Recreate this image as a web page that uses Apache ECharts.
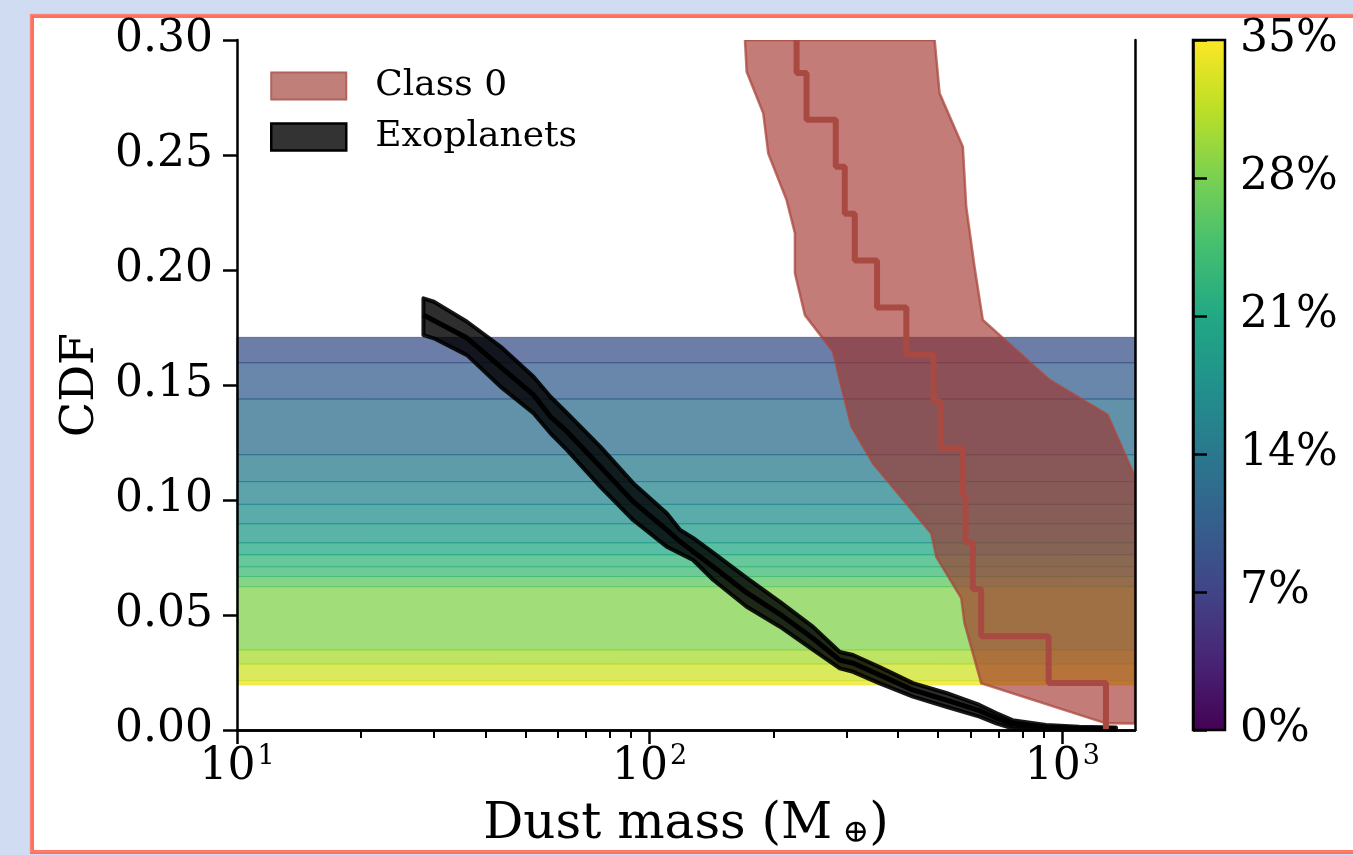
<!DOCTYPE html>
<html>
<head>
<meta charset="utf-8">
<script src="https://cdn.jsdelivr.net/npm/echarts@6/dist/echarts.min.js"></script>
<style>
html,body{margin:0;padding:0;background:#d0dcf2;}
#chart{width:1353px;height:855px;}
</style>
</head>
<body>
<div id="chart"></div>
<script>
// ---------------- data ----------------
const massMajorTicks = [10, 100, 1000];
const massMinorTicks = [20, 30, 40, 50, 60, 70, 80, 90, 200, 300, 400, 500, 600, 700, 800, 900];
const colorbarTicks = [0, 7, 14, 21, 28, 35];

// horizontal percentage bands (CDF edges, bottom -> top) and their colour value (%)
const bandEdges = [0.0196, 0.0214, 0.0287, 0.0348, 0.0623, 0.0667, 0.0710, 0.0762, 0.0814, 0.0897, 0.0981, 0.1080, 0.1197, 0.1439, 0.1597, 0.1707];
const bandPercent = [34, 32.5, 30.5, 28.4, 26, 23.8, 23, 21, 18.9, 17.3, 15.8, 14.4, 12.6, 10.5, 8.75];

// Exoplanets envelope
const exoUpperMass = [28.3, 30.0, 36.1, 43.5, 52.3, 57.5, 63.1, 75.9, 91.2, 110, 118.5, 127.4, 142.7, 171.8, 206.9, 248.9, 288.9, 311.1, 360.9, 434.5, 523.2, 630, 691.5, 757, 913, 1099, 1349];
const exoUpperCdf  = [0.1877, 0.1862, 0.1775, 0.1667, 0.1536, 0.1449, 0.1377, 0.1232, 0.1073, 0.0942, 0.0870, 0.0835, 0.0770, 0.0661, 0.0557, 0.0448, 0.0339, 0.0326, 0.0274, 0.0204, 0.0161, 0.0109, 0.0074, 0.0043, 0.0022, 0.0014, 0.0011];
const exoLowerMass = [28.3, 30.0, 36.1, 43.5, 52.3, 57.5, 63.1, 75.9, 91.2, 110, 118.5, 127.4, 142.7, 171.8, 206.9, 248.9, 288.9, 311.1, 360.9, 434.5, 523.2, 630, 691.5, 757, 913, 1349];
const exoLowerCdf  = [0.1717, 0.1703, 0.1630, 0.1493, 0.1377, 0.1290, 0.1217, 0.1058, 0.0913, 0.0797, 0.0768, 0.0739, 0.0652, 0.0536, 0.0449, 0.0348, 0.0268, 0.0253, 0.0203, 0.0145, 0.0101, 0.0058, 0.0029, 0.0007, 0.0, 0.0];
const exoMidMass = [28.3, 36.1, 43.5, 52.3, 57.5, 63.1, 75.9, 91.2, 110, 118.5, 142.5, 171.8, 206.9, 248.5, 288.9, 310.6, 360.9, 434, 524, 630, 692, 757, 913, 1099, 1350];
const exoMidCdf  = [0.1804, 0.1704, 0.1579, 0.1457, 0.1362, 0.1297, 0.1145, 0.0993, 0.0870, 0.0819, 0.0710, 0.0597, 0.0503, 0.0399, 0.0304, 0.0291, 0.0239, 0.0174, 0.0130, 0.0084, 0.0052, 0.0026, 0.0013, 0.0007, 0.0004];

// Class 0 envelope
const class0LeftMass = [170.2, 171.8, 188.5, 193.8, 214.7, 224.9, 224.9, 237.8, 278.3, 288.9, 308.3, 347.7, 481.4, 495, 568.9, 579.4, 636, 1275, 1500];
const class0LeftCdf  = [0.30, 0.2862, 0.2681, 0.2507, 0.2304, 0.2160, 0.1986, 0.1804, 0.1645, 0.1522, 0.1319, 0.1160, 0.0855, 0.0753, 0.0573, 0.0464, 0.0203, 0.0029, 0.0028];
const class0RightMass = [490.4, 504.2, 574, 584.9, 612.6, 641.6, 930, 1287, 1500];
const class0RightCdf  = [0.30, 0.2768, 0.2536, 0.2275, 0.2014, 0.1783, 0.1522, 0.1370, 0.1100];
// Class 0 step CDF
const class0StepMass = [227, 240, 282.5, 297, 314.1, 355.6, 418.8, 487.5, 506, 574, 582.7, 606.8, 636, 926.6, 1275.5, 1275.5];
const class0StepCdf  = [0.30, 0.2857, 0.2653, 0.2449, 0.2245, 0.2041, 0.1837, 0.1633, 0.1429, 0.1224, 0.1020, 0.0816, 0.0612, 0.0408, 0.0204, 0];

// ---------------- build ----------------
const viridis = ['#440154','#482475','#414487','#355f8d','#2a788e','#21918c','#22a884','#44bf70','#7ad151','#bddf26','#fde725'];
const FONT = 'DejaVu Serif';
const X_MIN = 10, X_MAX = 1500, Y_MIN = 0, Y_MAX = 0.30, CB_MIN = 0, CB_MAX = 35;

const pairs = (xs, ys) => xs.map((x, i) => [x, ys[i]]);
const bandData = bandPercent.map((p, i) => [bandEdges[i], bandEdges[i + 1], p]);
const exoPolygon = pairs(exoUpperMass, exoUpperCdf).concat(pairs(exoLowerMass, exoLowerCdf).reverse());
const class0Polygon = pairs(class0LeftMass, class0LeftCdf).concat(pairs(class0RightMass, class0RightCdf).reverse());

function clipOf(params) {
  const c = params.coordSys;
  return {type: 'rect', shape: {x: c.x, y: c.y, width: c.width, height: c.height}};
}
function polygonRenderer(points, style) {
  return function (params, api) {
    if (params.dataIndex !== 0) return null;
    return {
      type: 'polygon',
      shape: {points: points.map(p => api.coord(p))},
      style: style,
      clipPath: clipOf(params)
    };
  };
}

const chart = echarts.init(document.getElementById('chart'), null, {renderer: 'canvas'});
const labelStyle = {fontFamily: FONT, fontSize: 44, color: '#000'};

const option = {
  animation: false,
  backgroundColor: '#d0dcf2',
  textStyle: {fontFamily: FONT},
  graphic: [
    {type: 'rect', z: -100, shape: {x: 32, y: 16, width: 1420, height: 836},
     style: {fill: '#ffffff', stroke: '#ff6f5e', lineWidth: 4}},
    {type: 'rect', z: -99, shape: {x: 30.5, y: 14.5, width: 1420, height: 837},
     style: {fill: null, stroke: '#ff8b7c', lineWidth: 1.5, opacity: 0.7}}
  ],
  legend: {
    orient: 'vertical', left: 270, top: 68, padding: 0,
    itemWidth: 75, itemHeight: 27, itemGap: 15,
    textStyle: {fontFamily: FONT, fontSize: 36, color: '#000', lineHeight: 36, padding: [0, 0, 0, 24]},
    data: [
      {name: 'Class 0', icon: 'rect', itemStyle: {color: '#c07f79', borderColor: '#b0635c', borderWidth: 2}},
      {name: 'Exoplanets', icon: 'rect', itemStyle: {color: '#333333', borderColor: '#000000', borderWidth: 2.5}}
    ],
    selectedMode: false
  },
  visualMap: {
    type: 'continuous', show: false, seriesIndex: 0, dimension: 2,
    min: CB_MIN, max: CB_MAX, inRange: {color: viridis}
  },
  grid: [
    {left: 237, top: 40, width: 898, height: 690},
    {left: 1193, top: 40, width: 32, height: 690}
  ],
  xAxis: [
    {
      gridIndex: 0, type: 'log', logBase: 10, min: X_MIN, max: X_MAX, position: 'bottom', z: 10,
      axisLine: {show: true, lineStyle: {color: '#000', width: 2.5}},
      axisTick: {show: true, customValues: massMajorTicks, length: 14, lineStyle: {color: '#000', width: 2.5}},
      axisLabel: {
        customValues: massMajorTicks, margin: 13, color: '#000',
        formatter: v => '{b|10}{s|' + Math.round(Math.log10(v)) + '}',
        rich: {
          b: {fontFamily: FONT, fontSize: 44, color: '#000', lineHeight: 50},
          s: {fontFamily: FONT, fontSize: 27, color: '#000', verticalAlign: 'top', lineHeight: 30, padding: [0, 0, 0, 2]}
        }
      },
      splitLine: {show: false},
      name: 'Dust mass (M{s| ⊕})', nameLocation: 'middle', nameGap: 70,
      nameTextStyle: {
        fontFamily: FONT, fontSize: 50, color: '#000',
        rich: {s: {fontFamily: FONT, fontSize: 32, color: '#000', verticalAlign: 'bottom', lineHeight: 40, padding: [16, 0, 0, 0]}}
      }
    },
    {gridIndex: 1, type: 'value', min: 0, max: 1, show: false},
    {
      gridIndex: 0, type: 'log', logBase: 10, min: X_MIN, max: X_MAX, position: 'top', z: 10,
      axisLine: {show: true, lineStyle: {color: '#000', width: 2.5}},
      axisTick: {show: false}, axisLabel: {show: false}, splitLine: {show: false}
    },
    {
      gridIndex: 0, type: 'log', logBase: 10, min: X_MIN, max: X_MAX, position: 'bottom', z: 10,
      axisLine: {show: false},
      axisTick: {show: true, customValues: massMinorTicks, length: 8, lineStyle: {color: '#000', width: 2}},
      axisLabel: {show: false}, splitLine: {show: false}
    }
  ],
  yAxis: [
    {
      gridIndex: 0, type: 'value', min: Y_MIN, max: Y_MAX, interval: 0.05, position: 'left', z: 10,
      axisLine: {show: true, lineStyle: {color: '#000', width: 2.5}},
      axisTick: {show: true, length: 14, lineStyle: {color: '#000', width: 2.5}},
      axisLabel: Object.assign({margin: 24, formatter: v => v.toFixed(2)}, labelStyle),
      splitLine: {show: false},
      name: 'CDF', nameLocation: 'middle', nameGap: 127,
      nameTextStyle: {fontFamily: FONT, fontSize: 46, color: '#000'}
    },
    {
      gridIndex: 1, type: 'value', min: CB_MIN, max: CB_MAX, interval: 7, position: 'right', z: 10,
      axisLine: {show: true, lineStyle: {color: '#000', width: 2.5}},
      axisTick: {show: true, length: 14, lineStyle: {color: '#000', width: 2.5}},
      axisLabel: Object.assign({margin: 15, formatter: v => v + '%'}, labelStyle),
      splitLine: {show: false}
    },
    {
      gridIndex: 0, type: 'value', min: Y_MIN, max: Y_MAX, position: 'right', z: 10,
      axisLine: {show: true, lineStyle: {color: '#000', width: 2.5}},
      axisTick: {show: false}, axisLabel: {show: false}, splitLine: {show: false}
    }
  ],
  series: [
    {
      name: 'bands', type: 'custom', xAxisIndex: 0, yAxisIndex: 0, z: 1,
      dimensions: ['lo', 'hi', 'pct'], encode: {y: [0, 1]},
      data: bandData,
      renderItem: function (params, api) {
        const p1 = api.coord([X_MIN, api.value(1)]);
        const p2 = api.coord([X_MAX, api.value(0)]);
        const col = api.visual('color');
        return {
          type: 'rect',
          shape: {x: p1[0], y: p1[1], width: p2[0] - p1[0], height: p2[1] - p1[1]},
          style: {fill: col, stroke: col, lineWidth: 1, opacity: 0.75}
        };
      }
    },
    {
      name: 'Exoplanets', type: 'custom', xAxisIndex: 0, yAxisIndex: 0, z: 3,
      itemStyle: {color: '#333333'},
      data: exoPolygon,
      renderItem: polygonRenderer(exoPolygon, {fill: 'rgba(0,0,0,0.82)', stroke: 'rgba(0,0,0,0.9)', lineWidth: 4, lineJoin: 'round'})
    },
    {
      name: 'Exoplanets median', type: 'line', xAxisIndex: 0, yAxisIndex: 0, z: 4,
      data: pairs(exoMidMass, exoMidCdf), showSymbol: false, symbol: 'none',
      lineStyle: {color: '#000', width: 5}
    },
    {
      name: 'Class 0', type: 'custom', xAxisIndex: 0, yAxisIndex: 0, z: 5,
      itemStyle: {color: '#c07f79'},
      data: class0Polygon,
      renderItem: polygonRenderer(class0Polygon, {fill: 'rgba(160,48,40,0.63)', stroke: 'rgba(170,70,60,0.75)', lineWidth: 2.5})
    },
    {
      name: 'Class 0 CDF', type: 'line', xAxisIndex: 0, yAxisIndex: 0, z: 6,
      data: pairs(class0StepMass, class0StepCdf), step: 'start', showSymbol: false, symbol: 'none',
      lineStyle: {color: '#a94a42', width: 6}
    },
    {
      name: 'colorbar', type: 'custom', xAxisIndex: 1, yAxisIndex: 1, z: 2,
      data: [[CB_MIN, CB_MAX]], encode: {y: [0, 1]},
      renderItem: function (params, api) {
        const p1 = api.coord([0, api.value(1)]);
        const p2 = api.coord([1, api.value(0)]);
        return {
          type: 'rect',
          shape: {x: p1[0], y: p1[1], width: p2[0] - p1[0], height: p2[1] - p1[1]},
          style: {
            fill: new echarts.graphic.LinearGradient(0, 1, 0, 0,
              viridis.map((c, i) => ({offset: i / (viridis.length - 1), color: c}))),
            stroke: '#000', lineWidth: 2.5
          }
        };
      }
    }
  ]
};
chart.setOption(option);
</script>
</body>
</html>
